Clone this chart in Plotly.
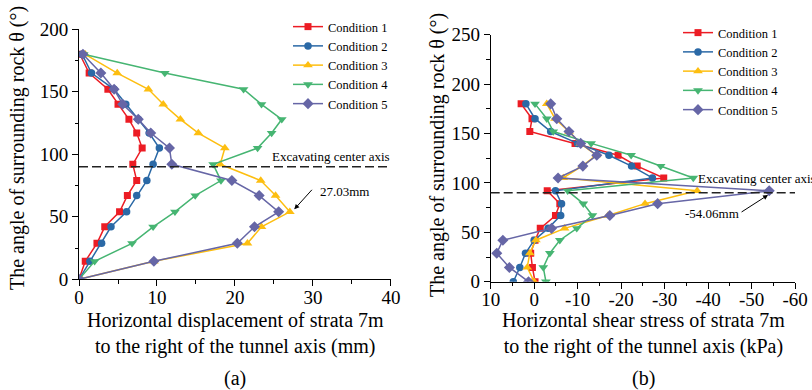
import plotly.graph_objects as go

# ---------------- data ----------------
angle = [0, 14.4, 28.8, 42, 54, 67, 79, 92, 105, 117, 128, 140, 152, 165, 180]
conditions = ["Condition 1", "Condition 2", "Condition 3", "Condition 4", "Condition 5"]

# (a) horizontal displacement (mm)
disp_c1 = [0, 0.8, 2.3, 3.3, 5.2, 6.2, 7.4, 6.9, 8.1, 7.4, 6.4, 5.0, 3.7, 1.3, 0.1]
disp_c2 = [0, 1.4, 2.9, 4.1, 6.1, 7.4, 8.7, 9.5, 10.3, 9.0, 7.6, 6.0, 4.5, 1.6, 0.4]
disp_c3 = [0, 9.6, 21.6, 23.4, 27.03, 25.2, 23.3, 18.1, 18.7, 15.3, 13.0, 10.8, 8.9, 4.9, 0.8]
disp_c4 = [0, 2.0, 6.8, 9.5, 12.3, 14.9, 18.2, 17.2, 22.9, 24.7, 26.0, 23.4, 21.1, 11.0, 0.6]
disp_c5 = [0, 9.6, 20.3, 22.5, 25.6, 23.1, 19.6, 11.9, 11.6, 9.2, 7.6, 5.6, 4.5, 2.8, 0.5]

# (b) horizontal shear stress (kPa)
shear_c1 = [-0.2, 0.4, 0.8, -0.2, -1.4, -4.9, -5.9, -3.0, -29.8, -23.7, -19.3, -9.4, 1.0, 0.5, 3.0]
shear_c2 = [4.8, 3.3, 2.0, 0.0, -3.2, -6.1, -6.3, -4.9, -27.2, -22.4, -17.2, -10.0, -3.8, -0.2, 1.9]
shear_c3 = [0.0, 1.6, 1.0, -0.4, -7.0, -17.0, -25.5, -37.5, -6.7, -11.0, -14.3, -10.6, -8.0, -4.8, -2.9]
shear_c4 = [-2.7, -2.1, -3.6, -5.9, -9.8, -13.4, -11.3, -7.7, -36.6, -29.1, -22.3, -13.1, -4.4, -2.9, -0.2]
shear_c5 = [1.3, 5.7, 8.6, 7.2, -4.0, -17.4, -28.4, -54.06, -5.5, -11.2, -14.4, -10.7, -8.0, -5.2, -3.8]

# ticks
yticks_a = [0, 50, 100, 150, 200]
yticks_b = [0, 50, 100, 150, 200, 250]
xticks_a = [0, 10, 20, 30, 40]
xticks_b = [10, 0, -10, -20, -30, -40, -50, -60]
xticktext_b = ["10", "0", "-10", "-20", "-30", "-40", "-50", "-60"]
center_axis = 90

# ---------------- style ----------------
FONT = "Times New Roman, Liberation Serif, serif"
colors = ["#EC1C24", "#2B69A6", "#FDBE10", "#46B572", "#6666A6"]
symbols = ["square", "circle", "triangle-up", "triangle-down", "diamond"]
msizes = [7, 7.5, 8.5, 8.5, 8.5]

disp = [disp_c1, disp_c2, disp_c3, disp_c4, disp_c5]
shear = [shear_c1, shear_c2, shear_c3, shear_c4, shear_c5]

fig = go.Figure()
for i, name in enumerate(conditions):
    fig.add_trace(go.Scatter(
        x=disp[i], y=angle, mode="lines+markers", name=name,
        line=dict(color=colors[i], width=1.5),
        marker=dict(symbol=symbols[i], size=msizes[i], color=colors[i]),
        xaxis="x", yaxis="y", legend="legend"))
for i, name in enumerate(conditions):
    fig.add_trace(go.Scatter(
        x=shear[i], y=angle, mode="lines+markers", name=name,
        line=dict(color=colors[i], width=1.5),
        marker=dict(symbol=symbols[i], size=msizes[i], color=colors[i]),
        xaxis="x2", yaxis="y2", legend="legend2"))

axis_common = dict(
    showline=True, linecolor="black", linewidth=1, mirror=False,
    ticks="outside", ticklen=6, tickwidth=1, tickcolor="black",
    showgrid=False, zeroline=False, automargin=False,
    tickfont=dict(family=FONT, size=19, color="black"),
)

fig.update_layout(
    width=812, height=390,
    margin=dict(l=0, r=0, t=0, b=0),
    paper_bgcolor="white", plot_bgcolor="white",
    font=dict(family=FONT, color="black"),
    xaxis=dict(domain=[0.0973, 0.4815], range=[0, 40], tickvals=xticks_a,
               minor=dict(ticks="outside", ticklen=3.5, dtick=5, tickcolor="black"),
               anchor="y", ticklabelstandoff=-5, **axis_common),
    yaxis=dict(domain=[0.2838, 0.9249], range=[0, 200], tickvals=yticks_a,
               minor=dict(ticks="outside", ticklen=3.5, dtick=25, tickcolor="black"),
               anchor="x", **axis_common),
    xaxis2=dict(domain=[0.6043, 0.9791], range=[10, -60], tickvals=xticks_b,
                ticktext=xticktext_b,
                minor=dict(ticks="outside", ticklen=3.5, dtick=5, tickcolor="black"),
                anchor="y2", ticklabelstandoff=-5, **axis_common),
    yaxis2=dict(domain=[0.2777, 0.911], range=[0, 250], tickvals=yticks_b,
                minor=dict(ticks="outside", ticklen=3.5, dtick=25, tickcolor="black"),
                anchor="x2", **axis_common),
    legend=dict(x=288 / 812, y=1 - 12 / 390, xanchor="left", yanchor="top",
                bgcolor="rgba(0,0,0,0)", font=dict(family=FONT, size=12.5, color="black")),
    legend2=dict(x=678 / 812, y=1 - 18 / 390, xanchor="left", yanchor="top",
                 bgcolor="rgba(0,0,0,0)", font=dict(family=FONT, size=12.5, color="black")),
    showlegend=True,
)

# reference lines (excavating center axis)
for xr, yr in [("x domain", "y"), ("x2 domain", "y2")]:
    fig.add_shape(type="line", xref=xr, yref=yr, x0=0, x1=1, y0=center_axis, y1=center_axis,
                  line=dict(color="#222222", width=1.5, dash="9px,4px"), layer="above")

ann = []
# axis titles
ann.append(dict(xref="paper", yref="paper", x=235 / 812, y=1 - 333.5 / 390, showarrow=False,
                text="Horizontal displacement of strata 7m<br>to the right of the tunnel axis (mm)",
                font=dict(family=FONT, size=20), align="center", xanchor="center", yanchor="middle"))
ann.append(dict(xref="paper", yref="paper", x=643 / 812, y=1 - 333.5 / 390, showarrow=False,
                text="Horizontal shear stress of strata 7m<br>to the right of the tunnel axis (kPa)",
                font=dict(family=FONT, size=20), align="center", xanchor="center", yanchor="middle"))
ann.append(dict(xref="paper", yref="paper", x=235 / 812, y=1 - 378 / 390, showarrow=False,
                text="(a)", font=dict(family=FONT, size=20), xanchor="center", yanchor="middle"))
ann.append(dict(xref="paper", yref="paper", x=643 / 812, y=1 - 378 / 390, showarrow=False,
                text="(b)", font=dict(family=FONT, size=20), xanchor="center", yanchor="middle"))
ann.append(dict(xref="paper", yref="paper", x=17 / 812, y=1 - 148 / 390, showarrow=False,
                text="The angle of surrounding rock θ (°)", textangle=-90,
                font=dict(family=FONT, size=20), xanchor="center", yanchor="middle"))
ann.append(dict(xref="paper", yref="paper", x=438 / 812, y=1 - 155 / 390, showarrow=False,
                text="The angle of surrounding rock θ (°)", textangle=-90,
                font=dict(family=FONT, size=20), xanchor="center", yanchor="middle"))
# center axis labels
ann.append(dict(xref="x", yref="y", x=24.45, y=98, showarrow=False, text="Excavating center axis",
                font=dict(family=FONT, size=13), xanchor="left", yanchor="middle"))
ann.append(dict(xref="x2", yref="y2", x=-37.2, y=104.8, showarrow=False, text="Excavating center axis",
                font=dict(family=FONT, size=13), xanchor="left", yanchor="middle"))
# peak labels
ann.append(dict(xref="x", yref="y", x=30.6, y=70, showarrow=False, text="27.03mm",
                font=dict(family=FONT, size=13), xanchor="left", yanchor="middle"))
ann.append(dict(xref="x", yref="y", x=27.6, y=56, text="", showarrow=True, ax=19, ay=-21,
                arrowhead=2, arrowsize=1, arrowwidth=1, arrowcolor="black"))
ann.append(dict(xref="x2", yref="y2", x=-41.0, y=69.3, showarrow=False, text="-54.06mm",
                font=dict(family=FONT, size=13), xanchor="center", yanchor="middle"))
ann.append(dict(xref="x2", yref="y2", x=-53.8, y=87.8, text="", showarrow=True, ax=-28, ay=18,
                arrowhead=2, arrowsize=1, arrowwidth=1, arrowcolor="black"))
fig.update_layout(annotations=ann)

fig.write_html("out.html")
